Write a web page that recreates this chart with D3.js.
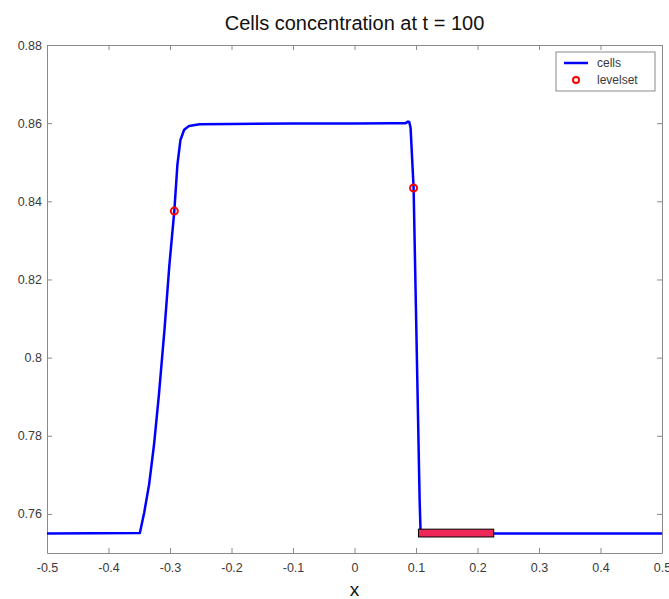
<!DOCTYPE html>
<html>
<head>
<meta charset="utf-8">
<script src="https://cdn.jsdelivr.net/npm/d3@7"></script>
<style>
  body { margin: 0; background: #fff; }
  svg { display: block; font-family: Arial, "Liberation Sans", sans-serif; }
</style>
</head>
<body>
<div id="chart"></div>
<script>
// cells curve (x, concentration)
const cellsX = [-0.5, -0.349, -0.342, -0.334, -0.326, -0.318, -0.309, -0.301, -0.293, -0.288, -0.283,
  -0.277, -0.269, -0.252, -0.2, -0.1, 0, 0.06, 0.083, 0.087, 0.089, 0.0912, 0.0961, 0.1059, 0.1075, 0.2, 0.5];
const cellsY = [0.755, 0.7551, 0.7603, 0.7675, 0.7777, 0.7905, 0.8071, 0.8237, 0.8375, 0.8493, 0.8557,
  0.8583, 0.8593, 0.8597, 0.8598, 0.8599, 0.8599, 0.86, 0.86, 0.8604, 0.8603, 0.8588, 0.8434, 0.7636, 0.7549, 0.755, 0.755];

// levelset points
const levelX = [-0.293, 0.096];
const levelY = [0.8375, 0.8434];

// red interval on the base line
const barX = [0.104, 0.2264];
const barY = [0.7541, 0.7561];

const xTicks = [-0.5, -0.4, -0.3, -0.2, -0.1, 0, 0.1, 0.2, 0.3, 0.4, 0.5];
const yTicks = [0.76, 0.78, 0.8, 0.82, 0.84, 0.86, 0.88];

const width = 669, height = 599;
const margin = {left: 47, right: 7, top: 45, bottom: 46};

const svg = d3.select("#chart").append("svg")
    .attr("width", width)
    .attr("height", height);

const x = d3.scaleLinear().domain([-0.5, 0.5]).range([margin.left, width - margin.right]);
const y = d3.scaleLinear().domain([0.75, 0.88]).range([height - margin.bottom, margin.top]);

// matlab style labels, plain hyphen for minus
const fmt = d => String(+d.toFixed(2));
const axisColor = "#8a8a8a";
const textColor = "#3a3a3a";

function styleAxis(g) {
    g.select(".domain").attr("stroke", axisColor);
    g.selectAll(".tick line").attr("stroke", axisColor);
    g.selectAll(".tick text").attr("fill", textColor).style("font-size", "12.5px");
}

// axes (ticks pointing inward)
svg.append("g")
    .attr("transform", `translate(0,${y(0.75)})`)
    .call(d3.axisBottom(x).tickValues(xTicks).tickFormat(fmt).tickSizeInner(-5).tickSizeOuter(0).tickPadding(10))
    .call(styleAxis);

svg.append("g")
    .attr("transform", `translate(0,${y(0.88)})`)
    .call(d3.axisTop(x).tickValues(xTicks).tickFormat("").tickSizeInner(-5).tickSizeOuter(0))
    .call(styleAxis);

svg.append("g")
    .attr("transform", `translate(${x(-0.5)},0)`)
    .call(d3.axisLeft(y).tickValues(yTicks).tickFormat(fmt).tickSizeInner(-5).tickSizeOuter(0).tickPadding(5))
    .call(styleAxis);

svg.append("g")
    .attr("transform", `translate(${x(0.5)},0)`)
    .call(d3.axisRight(y).tickValues(yTicks).tickFormat("").tickSizeInner(-5).tickSizeOuter(0))
    .call(styleAxis);

// cells line
const line = d3.line().x(d => x(d[0])).y(d => y(d[1]));
svg.append("path")
    .datum(d3.zip(cellsX, cellsY))
    .attr("d", line)
    .attr("fill", "none")
    .attr("stroke", "#0000ff")
    .attr("stroke-width", 2.5)
    .attr("stroke-linejoin", "round");

// red interval
svg.append("rect")
    .attr("x", x(barX[0]))
    .attr("y", y(barY[1]))
    .attr("width", x(barX[1]) - x(barX[0]))
    .attr("height", y(barY[0]) - y(barY[1]))
    .attr("fill", "#f0285a")
    .attr("stroke", "#000")
    .attr("stroke-width", 1);

// levelset markers
svg.selectAll(".lvl")
    .data(d3.zip(levelX, levelY))
    .enter().append("circle")
    .attr("class", "lvl")
    .attr("cx", d => x(d[0]))
    .attr("cy", d => y(d[1]))
    .attr("r", 3.5)
    .attr("fill", "none")
    .attr("stroke", "#ff0000")
    .attr("stroke-width", 2);

// title and axis label
svg.append("text")
    .attr("x", x(0))
    .attr("y", 30)
    .attr("text-anchor", "middle")
    .style("font-size", "20px")
    .attr("fill", "#111")
    .text("Cells concentration at t = 100");

svg.append("text")
    .attr("x", x(0))
    .attr("y", 596)
    .attr("text-anchor", "middle")
    .style("font-size", "19px")
    .attr("fill", "#111")
    .text("x");

// legend
const lg = svg.append("g").attr("transform", "translate(556,52)");
lg.append("rect")
    .attr("width", 99).attr("height", 39)
    .attr("fill", "#fff").attr("stroke", axisColor);
lg.append("line")
    .attr("x1", 8).attr("x2", 32).attr("y1", 11).attr("y2", 11)
    .attr("stroke", "#0000ff").attr("stroke-width", 2.5);
lg.append("circle")
    .attr("cx", 20).attr("cy", 28).attr("r", 3)
    .attr("fill", "none").attr("stroke", "#ff0000").attr("stroke-width", 2);
lg.append("text").attr("x", 41).attr("y", 15).style("font-size", "12px").attr("fill", textColor).text("cells");
lg.append("text").attr("x", 41).attr("y", 32).style("font-size", "12px").attr("fill", textColor).text("levelset");
</script>
</body>
</html>
